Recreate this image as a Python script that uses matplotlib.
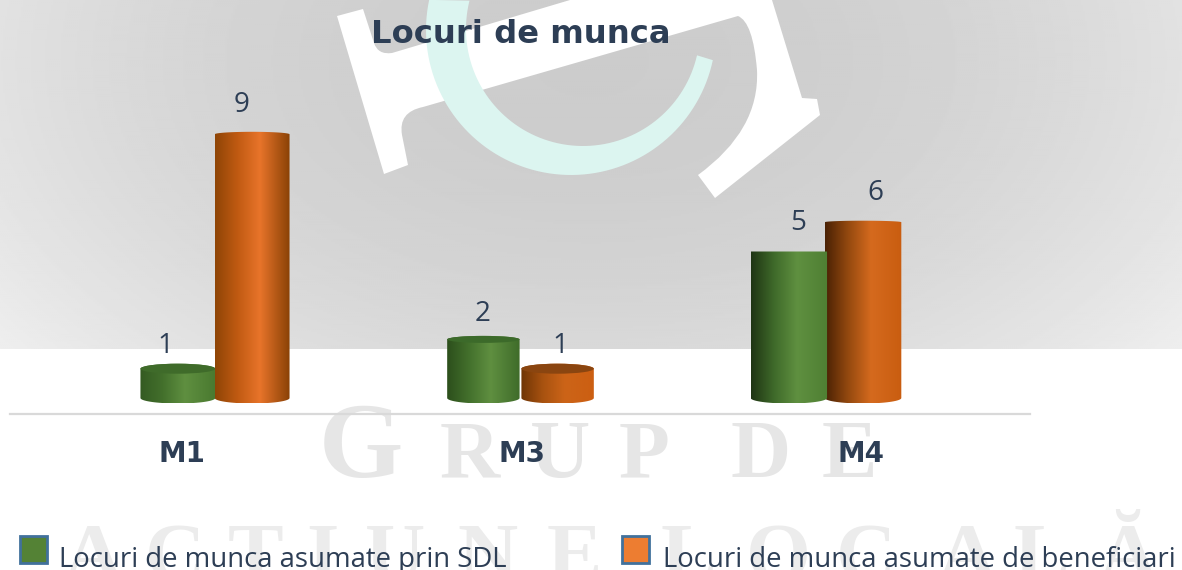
import numpy as np
import matplotlib
matplotlib.use("Agg")
import matplotlib.pyplot as plt
from matplotlib.colors import LinearSegmentedColormap
from matplotlib.patches import Polygon, Ellipse, Rectangle, PathPatch
from matplotlib.path import Path

title = "Locuri de munca"
categories = ["M1", "M3", "M4"]
sdl_values = [1, 2, 5]
beneficiari_values = [9, 1, 6]
legend_labels = ["Locuri de munca asumate prin SDL", "Locuri de munca asumate de beneficiari"]

INK = "#2d3e55"
W, H = 1182, 570
fig = plt.figure(figsize=(W / 100, H / 100), dpi=100, facecolor="white")

# ---- backdrop, in pixel coordinates ----
bg = fig.add_axes([0, 0, 1, 1])
bg.set_xlim(0, W)
bg.set_ylim(H, 0)
bg.axis("off")

xx, yy = np.meshgrid(np.arange(0, W, 2), np.arange(0, 349, 2))
r2 = ((xx - 590) / 640) ** 2 + ((yy - 60) / 400) ** 2
bg.imshow(204 + 25 * r2, cmap="gray", vmin=0, vmax=255, extent=[0, W, 349, 0], aspect="auto")
bg.set_xlim(0, W)
bg.set_ylim(H, 0)

# white logo shape behind the chart
L, C = Path.LINETO, Path.CURVE3
logo = [((337, 16), Path.MOVETO), ((363, 9), L), ((374, 43), L), ((378, 55), C), ((392, 53), C), ((570, 0), L),
        ((772, 0), L), ((802, 98), L), ((817, 99), L), ((820, 115), L), ((715, 198), L), ((698, 175), L),
        ((760, 130), C), ((757, 70), C), ((753, 22), C), ((738, 16), C), ((423, 107), L), ((398, 112), C),
        ((402, 135), C), ((408, 165), L), ((384, 174), L), ((337, 16), Path.CLOSEPOLY)]
bg.add_patch(PathPatch(Path([p[0] for p in logo], [p[1] for p in logo]), fc="white", ec="none"))

# teal crescent
t_out = np.radians(np.linspace(192, 12, 80))
t_in = np.radians(np.linspace(13, 194, 80))
crescent = np.vstack([np.c_[571 + 145 * np.cos(t_out), 30 + 145 * np.sin(t_out)],
                      np.c_[583 + 117 * np.cos(t_in), 29 + 117 * np.sin(t_in)]])
bg.add_patch(Polygon(crescent, closed=True, fc="#dcf5f0", ec="none"))

# big watermark letters
row1 = [("G", 319, 78), ("R", 440, 60), ("U", 530, 60), ("P", 619, 60), ("D", 730, 60), ("E", 822, 60)]
for ch, x, size in row1:
    bg.text(x, 477, ch, fontsize=size, family="Liberation Serif", weight="bold", color="#e6e6e6",
            ha="left", va="baseline")
row2 = [("A", 62), ("C", 145), ("T", 228), ("I", 306), ("U", 365), ("N", 457), ("E", 547),
        ("L", 661), ("O", 746), ("C", 836), ("A", 936), ("L", 1014), ("Ă", 1097)]
for ch, x in row2:
    bg.text(x, 580, ch, fontsize=60, family="Liberation Serif", weight="bold", color="#ececec",
            ha="left", va="baseline", clip_on=True)

bg.text(371, 43, title, fontsize=23.2, family="DejaVu Sans", weight="bold", color=INK, ha="left", va="baseline")

# legend
for x0, col, label, tx in zip([20, 622], ["#548235", "#ed7d31"], legend_labels, [59, 663]):
    bg.add_patch(Rectangle((x0, 536), 27, 27, fc=col, ec="#41719c", lw=2))
    bg.text(tx, 567, label, fontsize=19.8, family="Open Sans", color=INK, ha="left", va="baseline")

# ---- chart axes, 305.5 px between groups, 29.3 px per unit ----
GROUP_PX, UNIT_PX, ZERO_PX = 305.5, 29.3, 398
left_px, right_px, axis_px = 10, 1030, 414
ax = fig.add_axes([left_px / W, (H - axis_px) / H, (right_px - left_px) / W, axis_px / H])
ax.patch.set_alpha(0)
xlim = ((left_px - 215) / GROUP_PX, (right_px - 215) / GROUP_PX)
ylim = (-(axis_px - ZERO_PX) / UNIT_PX, ZERO_PX / UNIT_PX)

green_stops = [["#345a22", "#43702c", "#5f8f40", "#4a7a30"],
               ["#2c4f1c", "#43702c", "#5f8f40", "#3f6c2a"],
               ["#1f3514", "#3f6a2a", "#5f9040", "#4f7f33"]]
orange_stops = [["#8f4506", "#c05a12", "#e8742a", "#8a4206"],
                ["#6f3505", "#a85210", "#cc6418", "#cc5f12"],
                ["#4a2104", "#94490f", "#d56a1e", "#c95d10"]]
green_lids = ["#3f6b2a", "#3c6a2a", None]
orange_lids = [None, "#8a4510", None]
green_ry = [5, 3.5, 0]
orange_ry = [2.5, 5, 1.5]
bar_widths = [0.245, 0.237, 0.25]
bar_gap = 0.1215
# draw order per group, the front bar goes last
green_z = [2, 2, 4]
orange_z = [4, 4, 2]


def cylinder(x, width, value, stops, ry_top, lid, z):
    rt = ry_top / UNIT_PX
    rb = 5.5 / UNIT_PX
    t = np.linspace(0, np.pi, 40)
    top = np.c_[x - width / 2 * np.cos(t), value + rt * np.sin(t)]
    bottom = np.c_[x + width / 2 * np.cos(t), -rb * np.sin(t)]
    outline = Polygon(np.vstack([top, bottom]), closed=True, transform=ax.transData, fc="none", ec="none")
    ax.add_patch(outline)
    cmap = LinearSegmentedColormap.from_list("cyl", list(zip([0, 0.3, 0.6, 1], stops)))
    im = ax.imshow(np.linspace(0, 1, 200).reshape(1, -1), cmap=cmap, aspect="auto", zorder=z,
                   extent=[x - width / 2, x + width / 2, -rb, value + rt])
    im.set_clip_path(outline)
    if lid:
        ax.add_patch(Ellipse((x, value), width, 2 * rt, fc=lid, ec="none", zorder=z + 0.5))


for i in range(len(categories)):
    w = bar_widths[i]
    cylinder(i - bar_gap, w, sdl_values[i], green_stops[i], green_ry[i], green_lids[i], green_z[i])
    cylinder(i + bar_gap, w, beneficiari_values[i], orange_stops[i], orange_ry[i], orange_lids[i], orange_z[i])

# value labels sit off-centre like the original
green_label_off = [(-13, 23), (-1, 25), (9, 28)]
orange_label_off = [(-11, 29), (3, 23), (12, 29)]
for i in range(len(categories)):
    ax.annotate(str(sdl_values[i]), (i - bar_gap, sdl_values[i]), xytext=green_label_off[i],
                textcoords="offset pixels", ha="center", va="center", fontsize=20, family="Open Sans", color=INK)
    ax.annotate(str(beneficiari_values[i]), (i + bar_gap, beneficiari_values[i]), xytext=orange_label_off[i],
                textcoords="offset pixels", ha="center", va="center", fontsize=20, family="Open Sans", color=INK)

ax.set_xlim(xlim)
ax.set_ylim(ylim)
ax.set_yticks([])
ax.set_xticks([-0.108, 1.005, 2.113])
ax.set_xticklabels(categories, fontsize=20, family="DejaVu Sans", weight="bold", color=INK)
ax.tick_params(axis="x", length=0, pad=19)
for side in ["top", "left", "right"]:
    ax.spines[side].set_visible(False)
ax.spines["bottom"].set_color("#d9d9d9")
ax.spines["bottom"].set_linewidth(1.6)

fig.savefig("out.png", dpi=100)
